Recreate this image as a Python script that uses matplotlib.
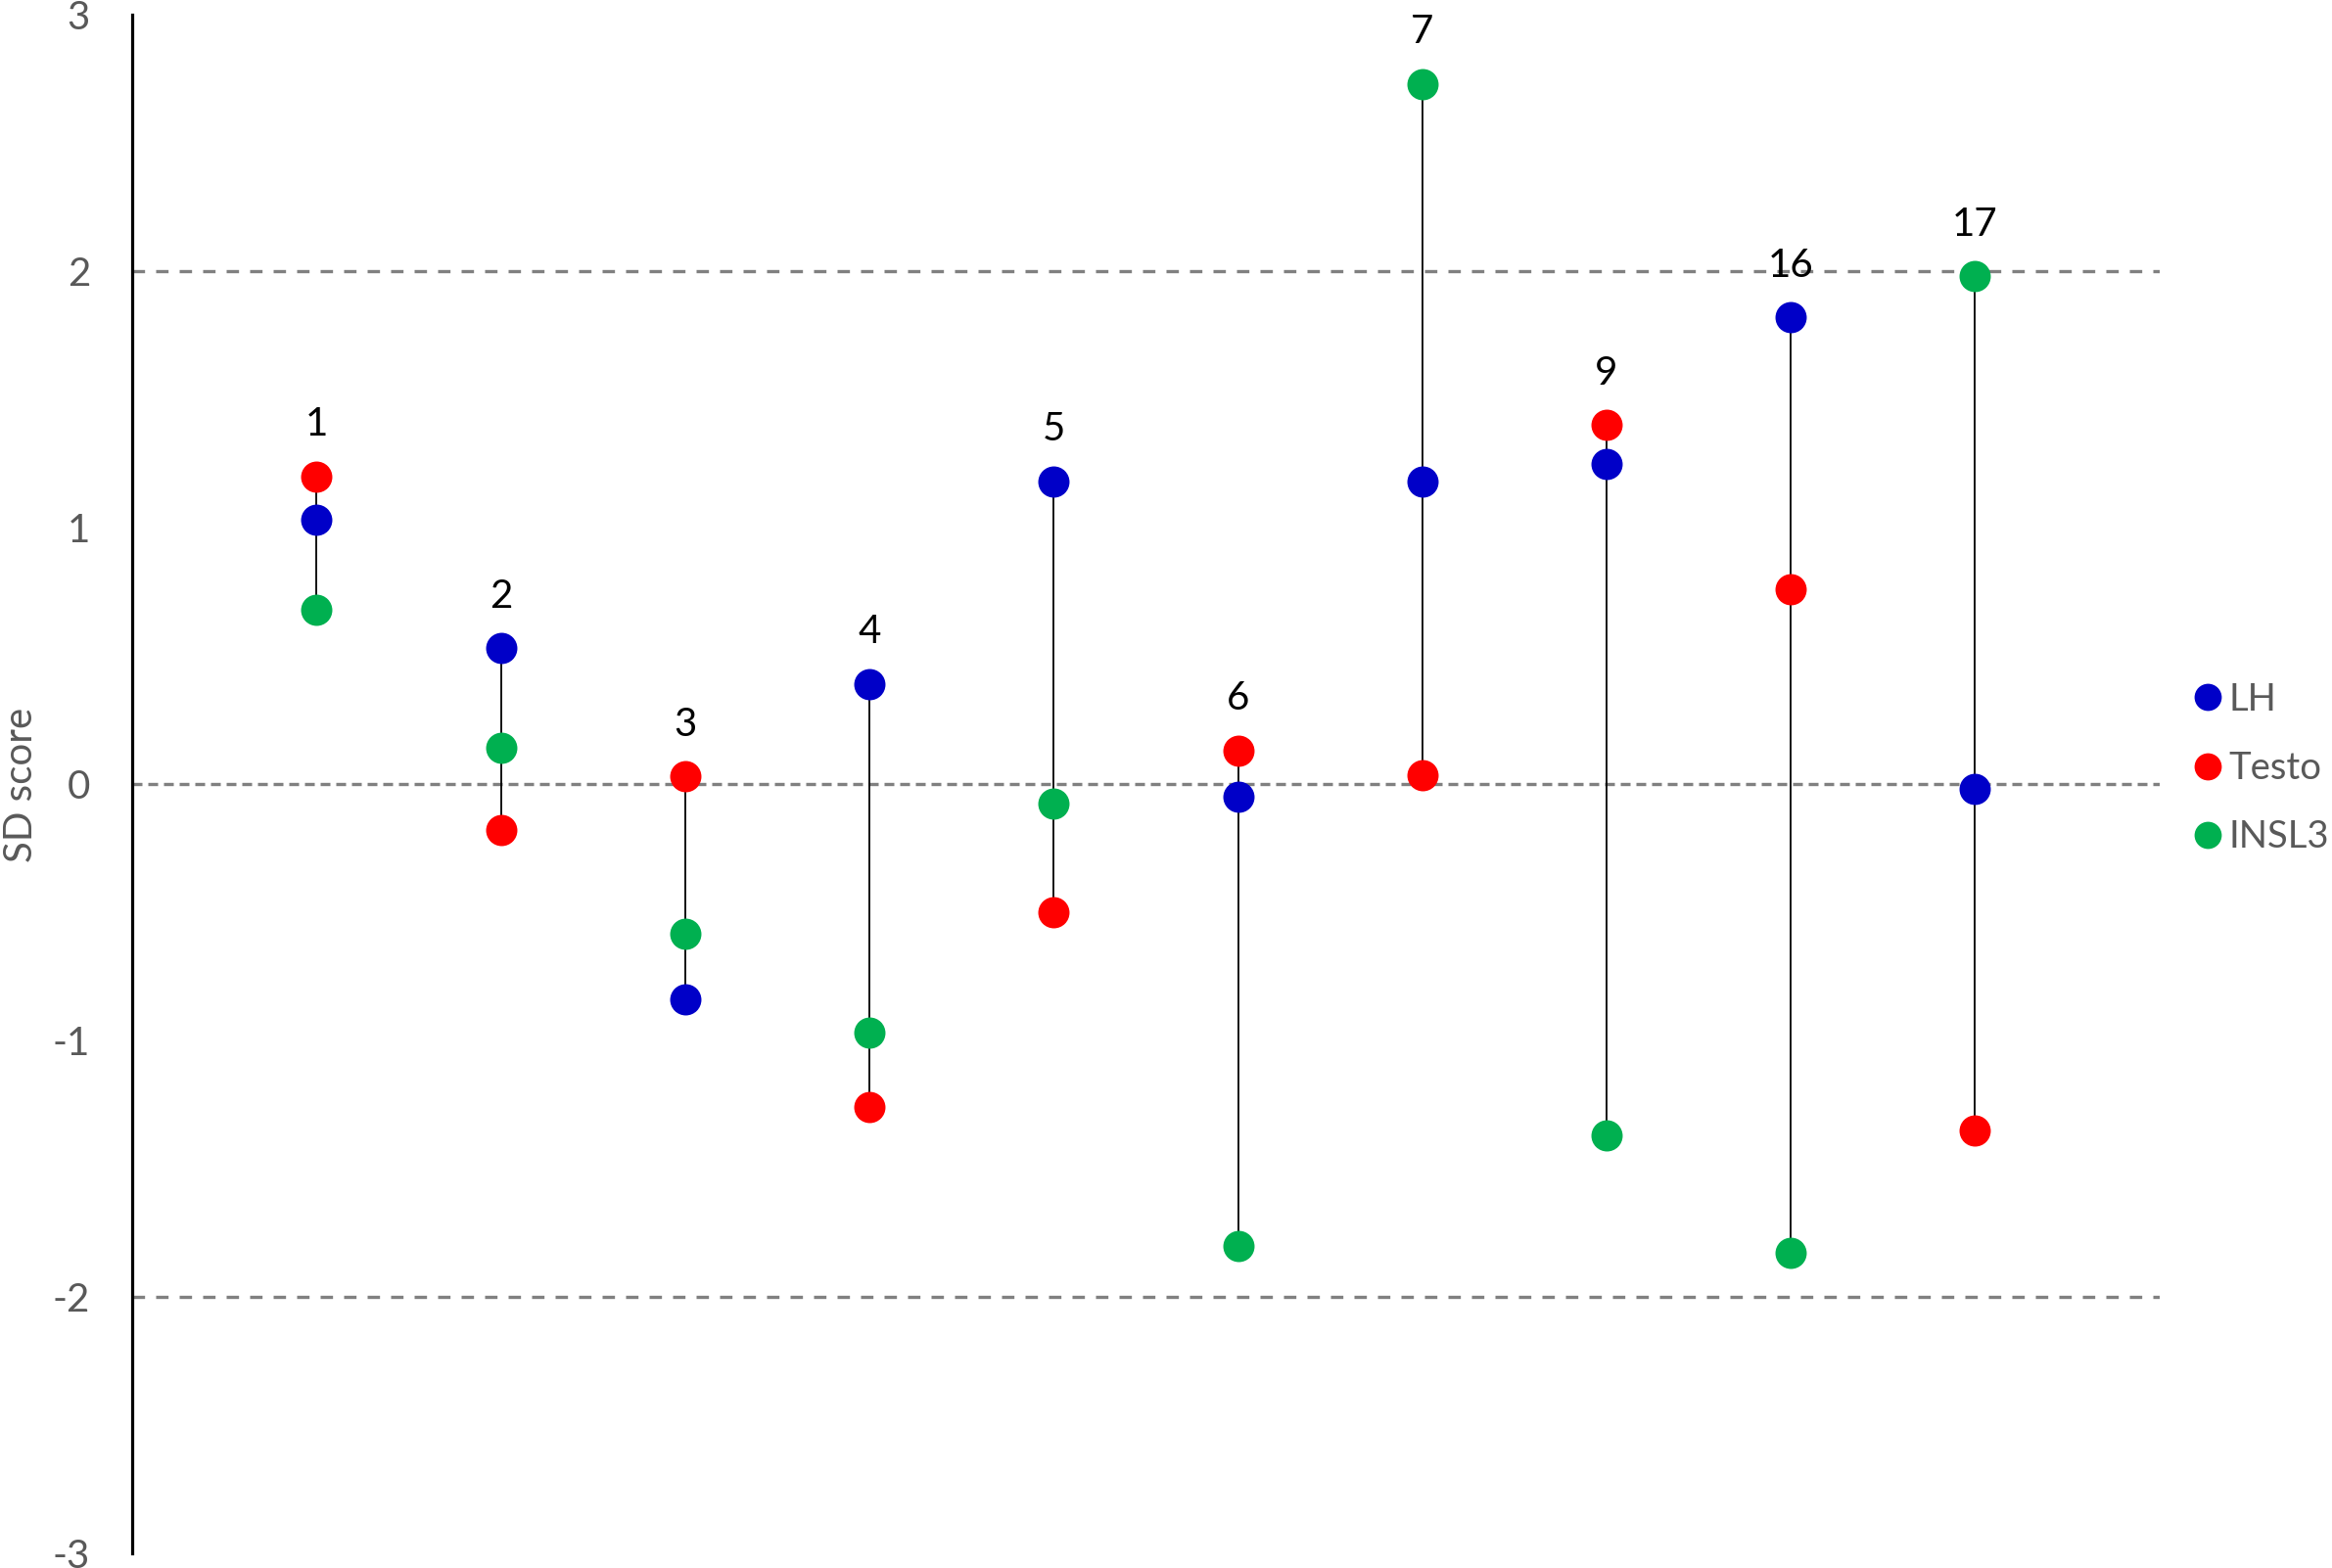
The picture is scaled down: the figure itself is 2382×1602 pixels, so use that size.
import matplotlib
matplotlib.use('Agg')
import matplotlib.pyplot as plt
from matplotlib.lines import Line2D

# ---- data ----
patients = ['1', '2', '3', '4', '5', '6', '7', '9', '16', '17']
lh = [1.03, 0.53, -0.84, 0.39, 1.18, -0.05, 1.18, 1.25, 1.82, -0.02]
testo = [1.20, -0.18, 0.03, -1.26, -0.50, 0.13, 0.035, 1.40, 0.76, -1.35]
insl3 = [0.68, 0.14, -0.585, -0.97, -0.075, -1.80, 2.73, -1.37, -1.83, 1.98]
series_names = ['LH', 'Testo', 'INSL3']
yticks = [-3, -2, -1, 0, 1, 2, 3]
ref_lines = [-2, 0, 2]

# ---- style ----
plt.rcParams['font.family'] = ['Lato', 'DejaVu Sans']
colors = {'LH': '#0000C8', 'Testo': '#FF0000', 'INSL3': '#00B050'}
gray_text = '#595959'

fig = plt.figure(figsize=(23.82, 16.02), dpi=100)
ax = fig.add_axes([0.0567, 0.0094, 0.8693, 0.9811])

x = list(range(len(patients)))
series = {'LH': lh, 'Testo': testo, 'INSL3': insl3}

# reference lines
for r in ref_lines:
    if r == 0:
        ax.axhline(r, color='#808080', lw=2.4, dashes=(3.0, 1.8), zorder=0)
    else:
        ax.axhline(r, color='#808080', lw=2.4, dashes=(3.8, 3.4), zorder=0)

# stems
lows = [min(a, b, c) for a, b, c in zip(lh, testo, insl3)]
highs = [max(a, b, c) for a, b, c in zip(lh, testo, insl3)]
ax.vlines(x, lows, highs, color='black', lw=1.3, zorder=1)

# points
for name in series_names:
    ax.plot(x, series[name], linestyle='none', marker='o', markersize=23,
            markeredgewidth=0, color=colors[name], zorder=3)

# labels above
for xi, hi, lab in zip(x, highs, patients):
    ax.annotate(lab, (xi, hi), xytext=(0, 30), textcoords='offset points',
                ha='center', va='baseline', fontsize=29, color='black')

ax.set_xlim(-1, 10)
ax.set_ylim(-3, 3)
ax.set_yticks(yticks)
ax.set_yticklabels([str(t) for t in yticks])
ax.set_xticks([])
ax.tick_params(axis='y', length=0, pad=31, labelsize=29, labelcolor=gray_text)
for s in ['top', 'right', 'bottom']:
    ax.spines[s].set_visible(False)
ax.spines['left'].set_linewidth(2.3)
ax.spines['left'].set_color('black')

fig.text(0.0092, 0.4994, 'SD score', rotation=90, ha='center', va='center',
         fontsize=29, color=gray_text)

handles = [Line2D([0], [0], linestyle='none', marker='o', markersize=20,
                  markeredgewidth=0, color=colors[n]) for n in series_names]
leg = fig.legend(handles, series_names, loc='center left',
                 bbox_to_anchor=(0.9405, 0.51), frameon=False, fontsize=27.5,
                 handlelength=0.75, handletextpad=0.2, labelspacing=0.9,
                 borderpad=0, borderaxespad=0)
for t in leg.get_texts():
    t.set_color(gray_text)

fig.savefig('out.png', dpi=100)
